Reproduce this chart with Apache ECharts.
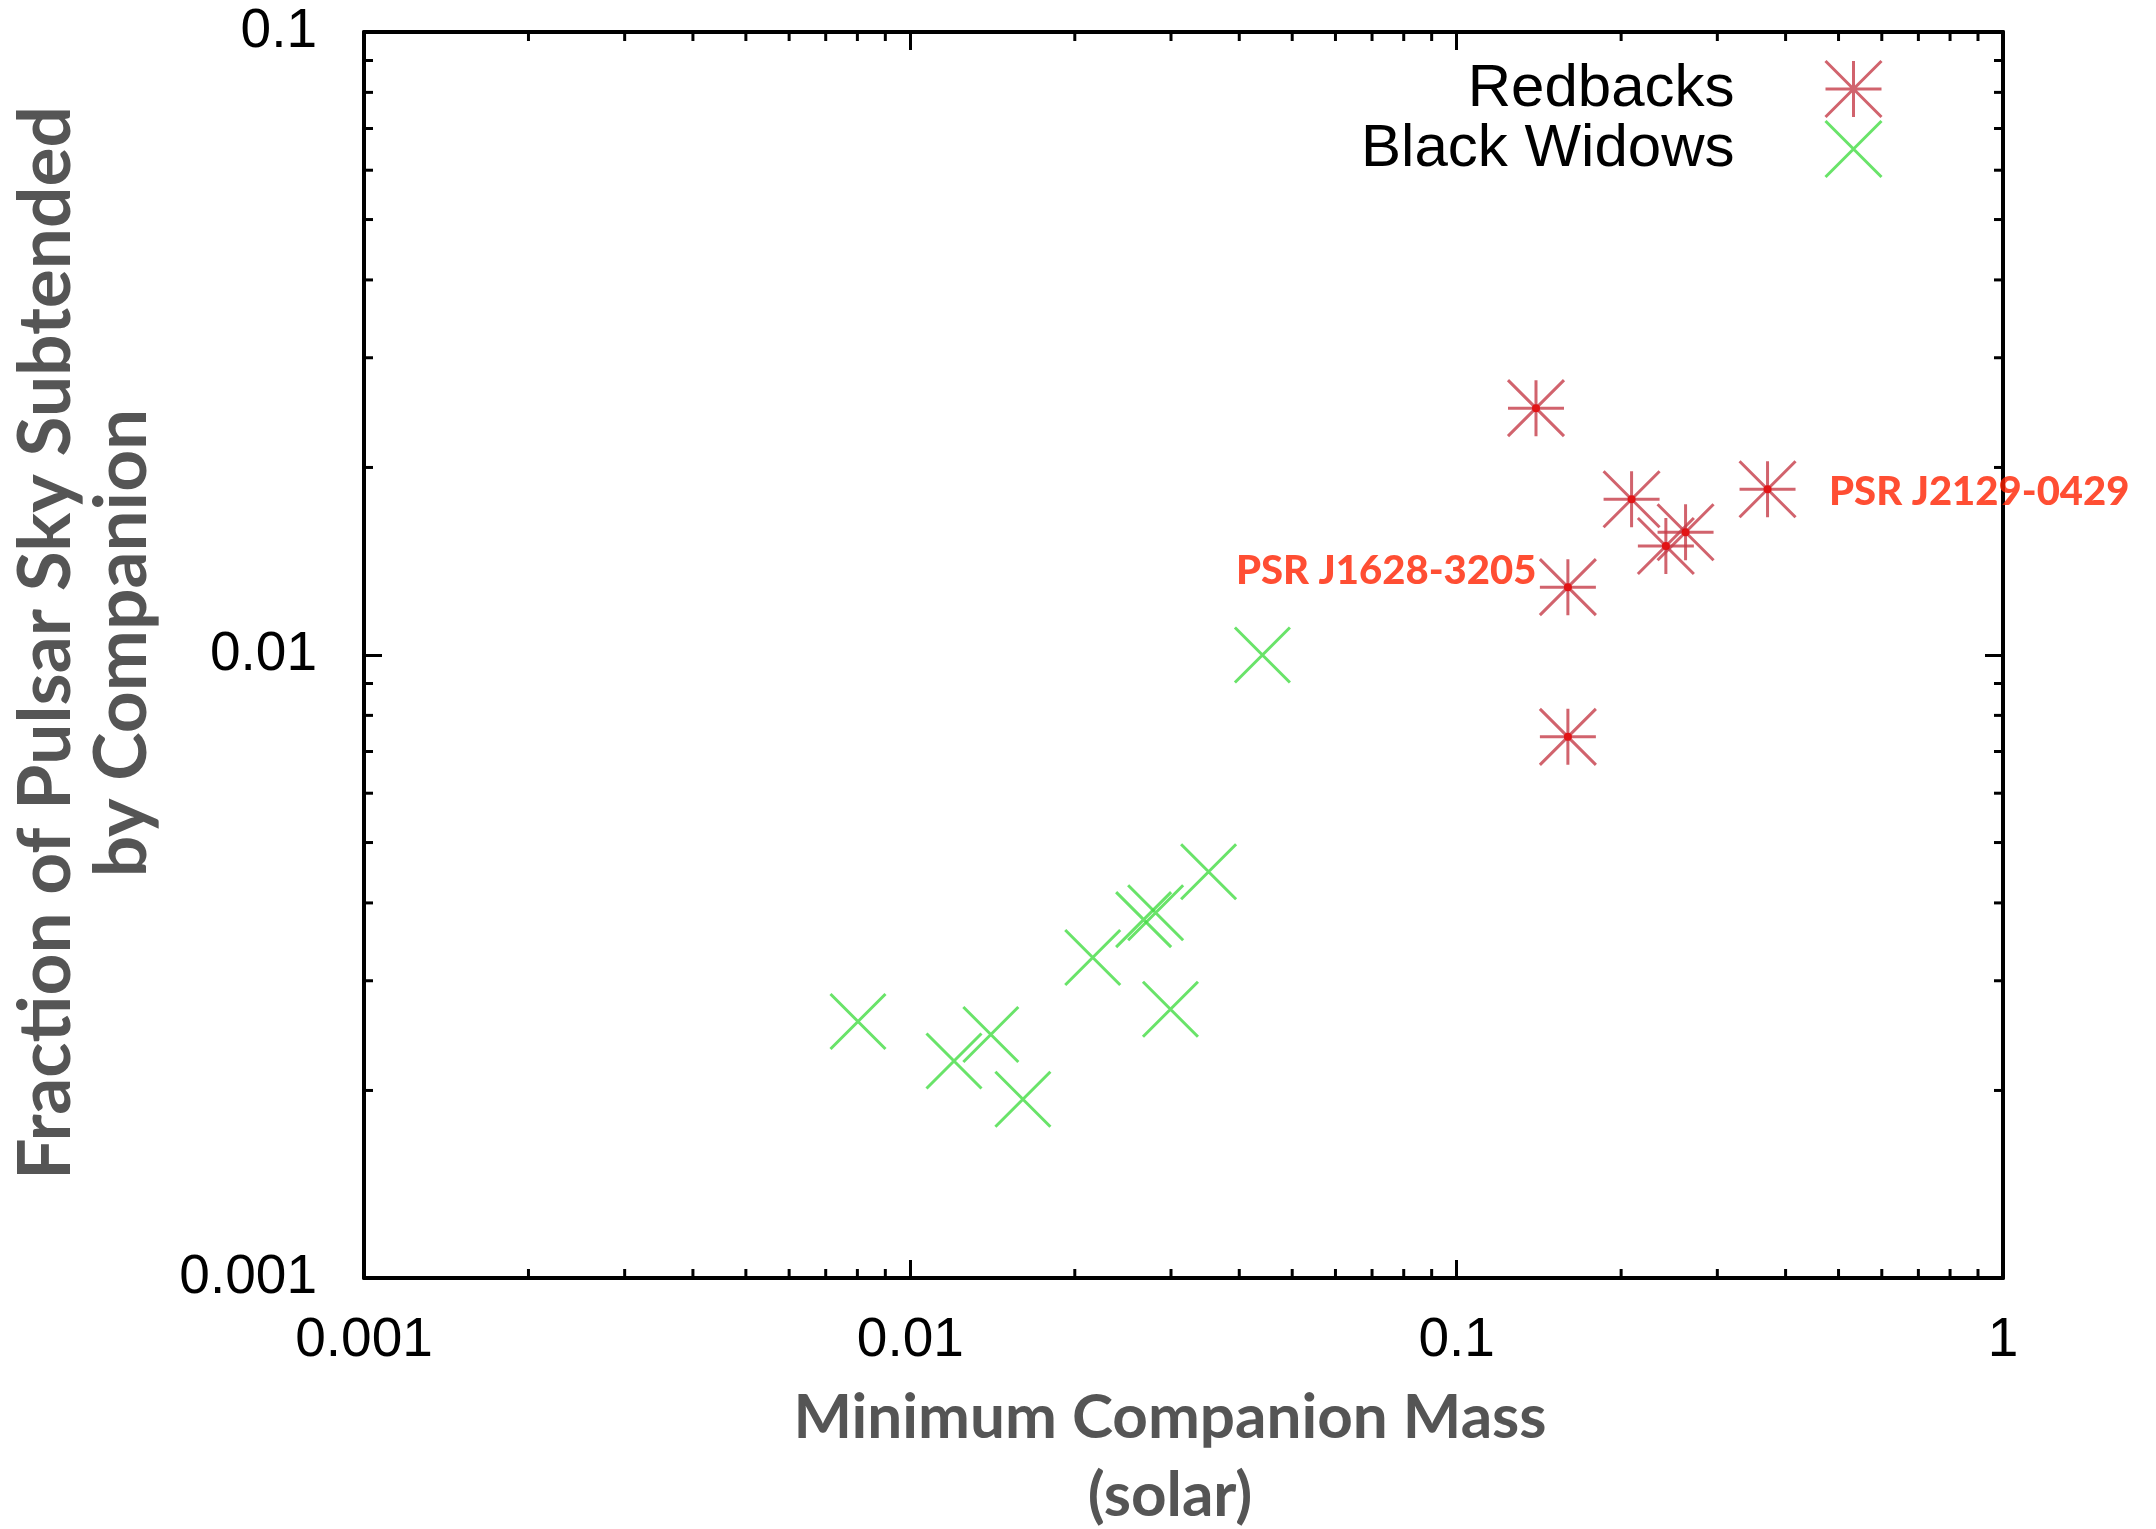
<!DOCTYPE html>
<html>
<head>
<meta charset="utf-8">
<script src="https://cdn.jsdelivr.net/npm/echarts@6/dist/echarts.min.js"></script>
<style>
html,body{margin:0;padding:0;background:#fff;}
#chart{width:2156px;height:1529px;}
</style>
</head>
<body>
<div id="chart"></div>
<script>
// ---- data ----
const redbackMass = [0.1397, 0.209, 0.2415, 0.2624, 0.3707, 0.1598, 0.1598];
const redbackFrac = [0.0249, 0.01778, 0.01496, 0.01574, 0.01845, 0.01285, 0.00739];
const redbackNames = ['', '', '', '', 'PSR J2129-0429', 'PSR J1628-3205', ''];

const widowMass = [0.00802, 0.01202, 0.01404, 0.01607, 0.02157, 0.02673, 0.02812, 0.03515, 0.02993, 0.0441];
const widowFrac = [0.00258, 0.00223, 0.00246, 0.001936, 0.003269, 0.003761, 0.003858, 0.004488, 0.0027, 0.0100];

const seriesNames = ['Redbacks', 'Black Widows'];
const xTickLabels = ['0.001', '0.01', '0.1', '1'];
const yTickLabels = ['0.001', '0.01', '0.1'];
const xMinorTicks = [0.002,0.003,0.004,0.005,0.006,0.007,0.008,0.009,
                     0.02,0.03,0.04,0.05,0.06,0.07,0.08,0.09,
                     0.2,0.3,0.4,0.5,0.6,0.7,0.8,0.9];
const yMinorTicks = [0.002,0.003,0.004,0.005,0.006,0.007,0.008,0.009,
                     0.02,0.03,0.04,0.05,0.06,0.07,0.08,0.09];
const xTitle = 'Minimum Companion Mass\n(solar)';
const yTitle = 'Fraction of Pulsar Sky Subtended\nby Companion';

// ---- styling ----
const RED = '#c63c48';
const GREEN = '#44dc44';
const LABEL_RED = '#ff2200';
const starPath = 'path://M0 0L20 20M20 0L0 20M10 0L10 20M0 10L20 10';
const crossPath = 'path://M0 0L20 20M20 0L0 20';
const labelSide = {
  'PSR J2129-0429': {position: 'right', distance: 32, offset: [0, 3]},
  'PSR J1628-3205': {position: 'left', distance: 2, offset: [0, -16]}
};

const chart = echarts.init(document.getElementById('chart'));

function xLabelFmt(v) {
  const i = Math.round(Math.log10(v) + 3);
  return xTickLabels[i] !== undefined ? xTickLabels[i] : '';
}
function yLabelFmt(v) {
  const i = Math.round(Math.log10(v) + 3);
  return yTickLabels[i] !== undefined ? yTickLabels[i] : '';
}

const axisLineStyle = {color: '#000', width: 4};
const tickStyle = {color: '#000', width: 3};
const tickLabelStyle = {color: '#000', fontSize: 55, fontFamily: 'Liberation Sans, Arial, sans-serif'};

const redData = redbackMass.map((m, i) => {
  const item = {value: [m, redbackFrac[i]], name: redbackNames[i]};
  const side = labelSide[redbackNames[i]];
  if (side) {
    item.label = {
      show: true, formatter: '{b}', position: side.position, distance: side.distance, offset: side.offset,
      color: LABEL_RED, fontSize: 40, fontWeight: 900, fontFamily: 'Lato, Open Sans, sans-serif'
    };
  }
  return item;
});
const greenData = widowMass.map((m, i) => [m, widowFrac[i]]);

function minorX(params, api) {
  const cs = params.coordSys;
  const p = api.coord([api.value(0), 0.01]);
  const b = cs.y + cs.height, t = cs.y;
  return {type: 'group', children: [
    {type: 'line', shape: {x1: p[0], y1: b, x2: p[0], y2: b - 9}, style: {stroke: '#000', lineWidth: 3}},
    {type: 'line', shape: {x1: p[0], y1: t, x2: p[0], y2: t + 9}, style: {stroke: '#000', lineWidth: 3}}
  ]};
}
function minorY(params, api) {
  const cs = params.coordSys;
  const p = api.coord([0.01, api.value(1)]);
  const l = cs.x, r = cs.x + cs.width;
  return {type: 'group', children: [
    {type: 'line', shape: {x1: l, y1: p[1], x2: l + 9, y2: p[1]}, style: {stroke: '#000', lineWidth: 3}},
    {type: 'line', shape: {x1: r, y1: p[1], x2: r - 9, y2: p[1]}, style: {stroke: '#000', lineWidth: 3}}
  ]};
}

const option = {
  backgroundColor: '#fff',
  animation: false,
  grid: {left: 364, right: 153, top: 32, bottom: 251, containLabel: false},
  xAxis: [
    {type: 'log', logBase: 10, min: 0.001, max: 1, position: 'bottom',
     axisLine: {show: true, lineStyle: axisLineStyle},
     axisTick: {show: true, inside: true, length: 18, lineStyle: tickStyle},
     axisLabel: Object.assign({margin: 35, formatter: xLabelFmt}, tickLabelStyle),
     splitLine: {show: false}},
    {type: 'log', logBase: 10, min: 0.001, max: 1, position: 'top',
     axisLine: {show: true, lineStyle: axisLineStyle},
     axisTick: {show: true, inside: true, length: 18, lineStyle: tickStyle},
     axisLabel: {show: false}, splitLine: {show: false}}
  ],
  yAxis: [
    {type: 'log', logBase: 10, min: 0.001, max: 0.1, position: 'left',
     axisLine: {show: true, lineStyle: axisLineStyle},
     axisTick: {show: true, inside: true, length: 18, lineStyle: tickStyle},
     axisLabel: Object.assign({margin: 47, formatter: yLabelFmt}, tickLabelStyle),
     splitLine: {show: false}},
    {type: 'log', logBase: 10, min: 0.001, max: 0.1, position: 'right',
     axisLine: {show: true, lineStyle: axisLineStyle},
     axisTick: {show: true, inside: true, length: 18, lineStyle: tickStyle},
     axisLabel: {show: false}, splitLine: {show: false}}
  ],
  legend: {
    data: seriesNames,
    orient: 'vertical',
    align: 'right',
    right: 268,
    top: 54,
    itemWidth: 56,
    itemHeight: 56,
    itemGap: 0,
    selectedMode: false,
    itemStyle: {borderWidth: 3},
    textStyle: {color: '#000', fontSize: 60, lineHeight: 56, fontFamily: 'Liberation Sans, Arial, sans-serif', padding: [0, 86, 0, 0]}
  },
  graphic: [
    {type: 'text', x: 1170, y: 1457,
     style: {text: xTitle, fill: '#555', font: 'bold 62px Lato, Open Sans, sans-serif', lineHeight: 78, textAlign: 'center', textVerticalAlign: 'middle'}},
    {type: 'text', x: 84, y: 643, rotation: Math.PI / 2,
     style: {text: yTitle, fill: '#555', font: 'bold 73px Lato, Open Sans, sans-serif', lineHeight: 76, textAlign: 'center', textVerticalAlign: 'middle'}}
  ],
  series: [
    {name: 'Redbacks', type: 'scatter', symbol: starPath, symbolSize: 56, symbolKeepAspect: true,
     itemStyle: {color: 'rgba(0,0,0,0)', borderColor: RED, borderWidth: 3},
     emphasis: {disabled: true},
     data: redData, z: 3},
    {name: 'Redbacks centre', type: 'scatter', symbol: 'circle', symbolSize: 8,
     itemStyle: {color: '#e60000'}, emphasis: {disabled: true}, silent: true,
     data: redbackMass.map((m, i) => [m, redbackFrac[i]]), z: 4},
    {name: 'Black Widows', type: 'scatter', symbol: crossPath, symbolSize: 55, symbolKeepAspect: true,
     itemStyle: {color: 'rgba(0,0,0,0)', borderColor: GREEN, borderWidth: 3},
     emphasis: {disabled: true},
     data: greenData, z: 3},
    {name: 'xminor', type: 'custom', renderItem: minorX, silent: true, clip: false,
     data: xMinorTicks.map(v => [v, 0.01]), z: 5},
    {name: 'yminor', type: 'custom', renderItem: minorY, silent: true, clip: false,
     data: yMinorTicks.map(v => [0.01, v]), z: 5}
  ]
};
chart.setOption(option);
</script>
</body>
</html>
